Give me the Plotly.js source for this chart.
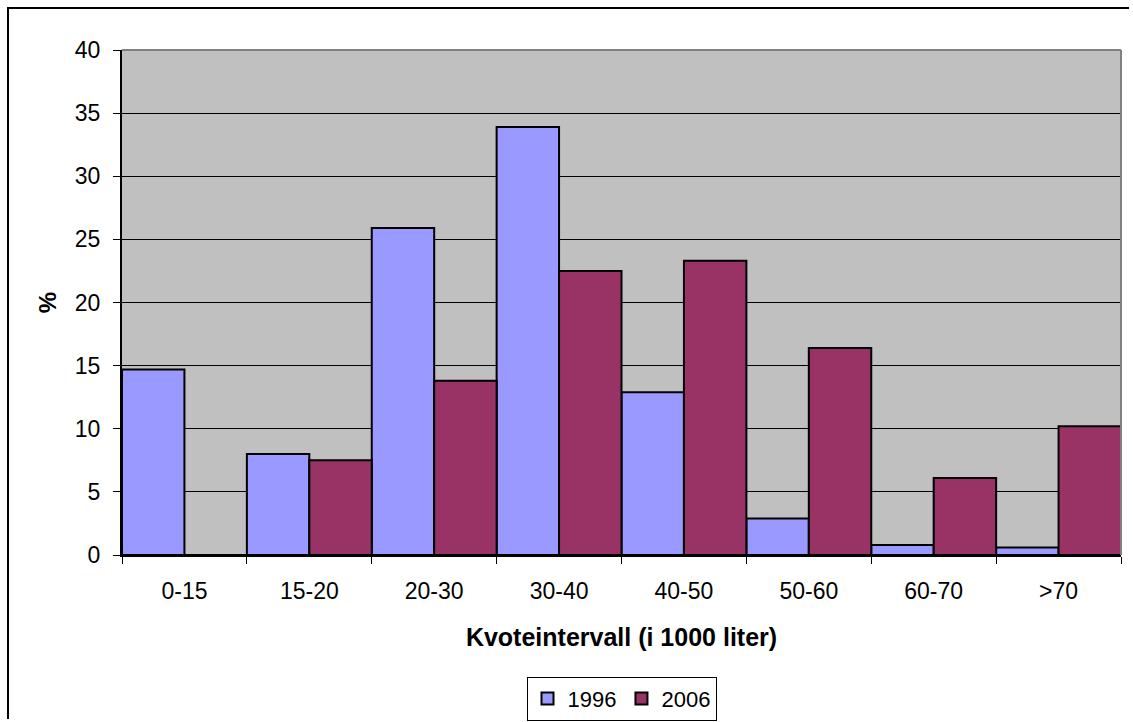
<!DOCTYPE html>
<html>
<head>
<meta charset="utf-8">
<script src="https://cdn.plot.ly/plotly-3.0.1.min.js"></script>
<style>
html,body{margin:0;padding:0;background:#fff;overflow:hidden;width:1133px;height:722px;}
#wrap{position:absolute;left:0;top:0;width:1133px;height:722px;overflow:hidden;}
#frame{position:absolute;left:7px;top:7px;width:1120px;height:710px;border-left:2px solid #000;border-top:2px solid #000;pointer-events:none;}
#chart{position:absolute;left:0;top:0;width:1133px;height:722px;}
</style>
</head>
<body>
<div id="wrap">
<div id="chart"></div>
<div id="frame"></div>
</div>
<script>
const categories = ["0-15","15-20","20-30","30-40","40-50","50-60","60-70",">70"];
const values1996 = [14.7, 8.0, 25.9, 33.9, 12.9, 2.9, 0.8, 0.6];
const values2006 = [0, 7.5, 13.8, 22.5, 23.3, 16.4, 6.1, 10.2];
const yTicks = [0,5,10,15,20,25,30,35,40];

const font = {family: "Liberation Sans, Arial, sans-serif", color: "#000"};
const fs = 23;

const traces = [
  {type:"bar", name:"1996", x:categories, y:values1996,
   marker:{color:"#9999ff", line:{color:"#000", width:2}}},
  {type:"bar", name:"2006", x:categories, y:values2006,
   marker:{color:"#993366", line:{color:"#000", width:2}}}
];

const layout = {
  width:1133, height:722,
  margin:{l:122, r:12, t:50, b:167, autoexpand:false},
  paper_bgcolor:"rgba(0,0,0,0)",
  plot_bgcolor:"#c0c0c0",
  barmode:"group", bargap:0, bargroupgap:0,
  font:Object.assign({size:fs}, font),
  showlegend:true,
  legend:{orientation:"h", x:0.5, xanchor:"center", y:-0.241, yanchor:"top",
          bordercolor:"#000", borderwidth:1, bgcolor:"#fff",
          font:Object.assign({size:22}, font), itemsizing:"constant", traceorder:"normal"},
  xaxis:{type:"category", tickson:"boundaries", ticks:"outside", ticklen:7, tickcolor:"#000",
         showline:true, linecolor:"#000", linewidth:2, mirror:false, ticklabelstandoff:14,
         tickfont:Object.assign({size:fs}, font), automargin:false,
         title:{text:"<b>Kvoteintervall (i 1000 liter)</b>", font:Object.assign({size:25}, font), standoff:26}},
  yaxis:{range:[0,40], tickvals:yTicks, ticktext:yTicks.map(String), ticks:"outside", ticklen:7, tickcolor:"#000",
         showline:true, linecolor:"#000", linewidth:2, showgrid:true, gridcolor:"#000", gridwidth:1,
         zeroline:false, tickfont:Object.assign({size:fs}, font), automargin:false, ticklabelstandoff:8,
         title:{text:"<b>%</b>", font:Object.assign({size:24}, font), standoff:11}},
  shapes:[
    {type:"line", xref:"paper", yref:"paper", x0:0, x1:1, y0:1, y1:1, line:{color:"#808080", width:2}},
    {type:"line", xref:"paper", yref:"paper", x0:1, x1:1, y0:0, y1:1, line:{color:"#808080", width:2}}
  ]
};

Plotly.newPlot("chart", traces, layout, {displayModeBar:false, staticPlot:true});
</script>
</body>
</html>
